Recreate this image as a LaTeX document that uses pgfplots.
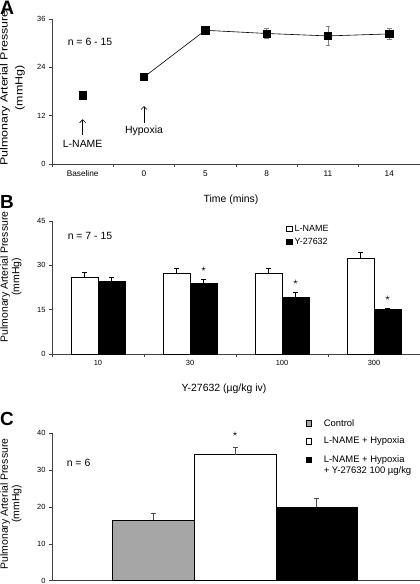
\documentclass[border=0pt]{standalone}
\usepackage{graphicx}
\usepackage{pgfplots}
\pgfplotsset{compat=1.18}
\usepackage{fontspec}
\setmainfont{Liberation Sans}
\usetikzlibrary{arrows.meta}
\tikzset{ann/.style={font=\fontsize{10.5}{12}\selectfont}}
\pgfplotsset{
  common/.style={scale only axis, width=368bp, anchor=south west,
    axis x line*=bottom, axis y line*=left,
    axis line style={line width=0.6bp, draw=black!75},
    tick align=outside, major tick length=3bp,
    tick style={line width=0.6bp, draw=black!75},
    tick label style={font=\fontsize{7.5}{9}\selectfont},
    /pgf/number format/assume math mode=true, clip=false},
}
\begin{document}
\begin{tikzpicture}
\useasboundingbox (0bp,0bp) rectangle (420bp,-584bp);
% Panel letters
\node[font=\bfseries\fontsize{19.5}{20}\selectfont, anchor=base west, inner sep=0pt] at (0bp,-14bp) {A};
\node[font=\bfseries\fontsize{19}{20}\selectfont, anchor=base west, inner sep=0pt] at (0bp,-208bp) {B};
\node[font=\bfseries\fontsize{19}{20}\selectfont, anchor=base west, inner sep=0pt] at (0bp,-425bp) {C};
% y labels
\node[rotate=90, align=center, font=\fontsize{10.5}{15}\selectfont] at (12.5bp,-88bp) {\scalebox{1.19}[1]{Pulmonary Arterial Pressure}\\\scalebox{1.19}[1]{(mmHg)}};
\node[rotate=90, align=center, font=\fontsize{10.5}{11.5}\selectfont] at (11bp,-277bp) {Pulmonary Arterial Pressure\\(mmHg)};
\node[rotate=90, align=center, font=\fontsize{10.5}{11.5}\selectfont] at (11bp,-504bp) {Pulmonary Arterial Pressure\\(mmHg)};
% x labels
\node[ann] at (231bp,-200bp) {Time (mins)};
\node[ann] at (224bp,-389bp) {Y-27632 (µg/kg iv)};

% ---------------- Panel A
\begin{axis}[common, at={(52bp,-164bp)}, height=145bp,
  xmin=-0.5, xmax=5.5, ymin=0, ymax=36, ytick={0,12,24,36},
  xtick={-0.5,0.5,...,5.5}, x tick label as interval,
  xticklabels={Baseline,0,5,8,11,14},
  xticklabel style={font=\fontsize{8.3}{9}\selectfont}]
\addplot[only marks, mark=square*, mark size=3.6bp, black,
  error bars/.cd, y dir=both, y explicit,
  error bar style={gray, line width=0.6bp},
  error mark options={rotate=90, gray, mark size=2.2bp, line width=0.6bp}]
  coordinates {(0,17.1) +- (0,0.6)};
\addplot[black, line width=0.6bp, mark=square*, mark size=3.6bp,
  error bars/.cd, y dir=both, y explicit,
  error bar style={gray, line width=0.6bp},
  error mark options={rotate=90, gray, mark size=2.2bp, line width=0.6bp}]
  coordinates {(1,21.6) +- (0,0.4) (2,33.2) +- (0,0.5) (3,32.4) +- (0,1.2) (4,31.8) +- (0,2.3) (5,32.3) +- (0,1.4)};
\node[ann] at (axis cs:0.12,30.3) {n = 6 - 15};
\draw[-{Straight Barb[length=3bp,width=6bp]}, line width=0.6bp] (axis cs:0,7.2) -- (axis cs:0,11.1);
\node[ann] at (axis cs:0,4.9) {L-NAME};
\draw[-{Straight Barb[length=3bp,width=6bp]}, line width=0.6bp] (axis cs:1,10.1) -- (axis cs:1,14.4);
\node[ann] at (axis cs:1,8.3) {Hypoxia};
\end{axis}

% ---------------- Panel B
\begin{axis}[common, at={(52bp,-354bp)}, height=133bp,
  xmin=-0.5, xmax=3.5, ymin=0, ymax=45, ytick={0,15,30,45},
  xtick={-0.5,0.5,...,3.5}, x tick label as interval,
  xticklabels={10,30,100,300},
  ybar=0pt, bar width=27bp,
  legend style={draw=none, fill=none, at={(0.636,0.985)}, anchor=north west,
    font=\fontsize{9}{10}\selectfont, inner sep=0pt, row sep=1.2bp,
    /tikz/every odd column/.append style={column sep=0.5bp}},
  legend image code/.code={\draw[#1,/tikz/.cd,line width=0.5bp] (0bp,-2.7bp) rectangle (5.4bp,2.7bp);},
  legend cell align=left]
\addplot[fill=white, draw=black, line width=0.6bp,
  error bars/.cd, y dir=plus, y explicit,
  error bar style={black, line width=0.6bp},
  error mark options={rotate=90, black, mark size=2.5bp, line width=0.6bp}]
  coordinates {(0,26.0) +- (0,1.6) (1,27.4) +- (0,1.6) (2,27.3) +- (0,1.7) (3,32.4) +- (0,2.0)};
\addplot[fill=black, draw=black, line width=0.6bp,
  error bars/.cd, y dir=plus, y explicit,
  error bar style={black, line width=0.6bp},
  error mark options={rotate=90, black, mark size=2.5bp, line width=0.6bp}]
  coordinates {(0,24.5) +- (0,1.5) (1,23.9) +- (0,1.4) (2,19.2) +- (0,1.6) (3,15.0) +- (0,0.3)};
\legend{L-NAME,Y-27632}
\node[ann] at (axis cs:-0.087,39.9) {n = 7 - 15};
\node[inner sep=0pt] at (axis cs:1.147,28.6) {$\star$};
\node[inner sep=0pt] at (axis cs:2.147,24.3) {$\star$};
\node[inner sep=0pt] at (axis cs:3.147,18.8) {$\star$};
\end{axis}

% ---------------- Panel C
\begin{axis}[common, at={(52bp,-580.7bp)}, height=147.4bp,
  xmin=-0.24, xmax=4.264, ymin=0, ymax=40, ytick={0,10,20,30,40},
  xtick=\empty, ybar=0pt, bar width=81.7bp,
  legend style={draw=none, fill=none, at={(0.69,1.111)}, anchor=north west,
    font=\fontsize{9.5}{11}\selectfont, inner sep=0pt, row sep=5.5bp,
    /tikz/every odd column/.append style={column sep=10bp}},
  legend image code/.code={\draw[#1,/tikz/.cd,line width=0.5bp] (0bp,-2.6bp) rectangle (5.2bp,2.6bp);},
  legend cell align=left]
\addplot[bar shift=0pt, fill=black!35, draw=black, line width=0.6bp,
  error bars/.cd, y dir=plus, y explicit,
  error bar style={black!70, line width=0.6bp},
  error mark options={rotate=90, black!70, mark size=2.5bp, line width=0.6bp}]
  coordinates {(1,16.5) +- (0,1.9)};
\addplot[bar shift=0pt, fill=white, draw=black, line width=0.6bp,
  error bars/.cd, y dir=plus, y explicit,
  error bar style={black!70, line width=0.6bp},
  error mark options={rotate=90, black!70, mark size=2.5bp, line width=0.6bp}]
  coordinates {(2,34.2) +- (0,1.9)};
\addplot[bar shift=0pt, fill=black, draw=black, line width=0.6bp,
  error bars/.cd, y dir=plus, y explicit,
  error bar style={black!70, line width=0.6bp},
  error mark options={rotate=90, black!70, mark size=2.5bp, line width=0.6bp}]
  coordinates {(3,19.9) +- (0,2.4)};
\legend{Control,L-NAME + Hypoxia,{\begin{tabular}[t]{@{}l@{}}L-NAME + Hypoxia\\+ Y-27632 100 µg/kg\end{tabular}}}
\node[ann] at (axis cs:0.085,32.0) {n = 6};
\node[inner sep=0pt] at (axis cs:2,39.7) {$\star$};
\end{axis}
\end{tikzpicture}
\end{document}
